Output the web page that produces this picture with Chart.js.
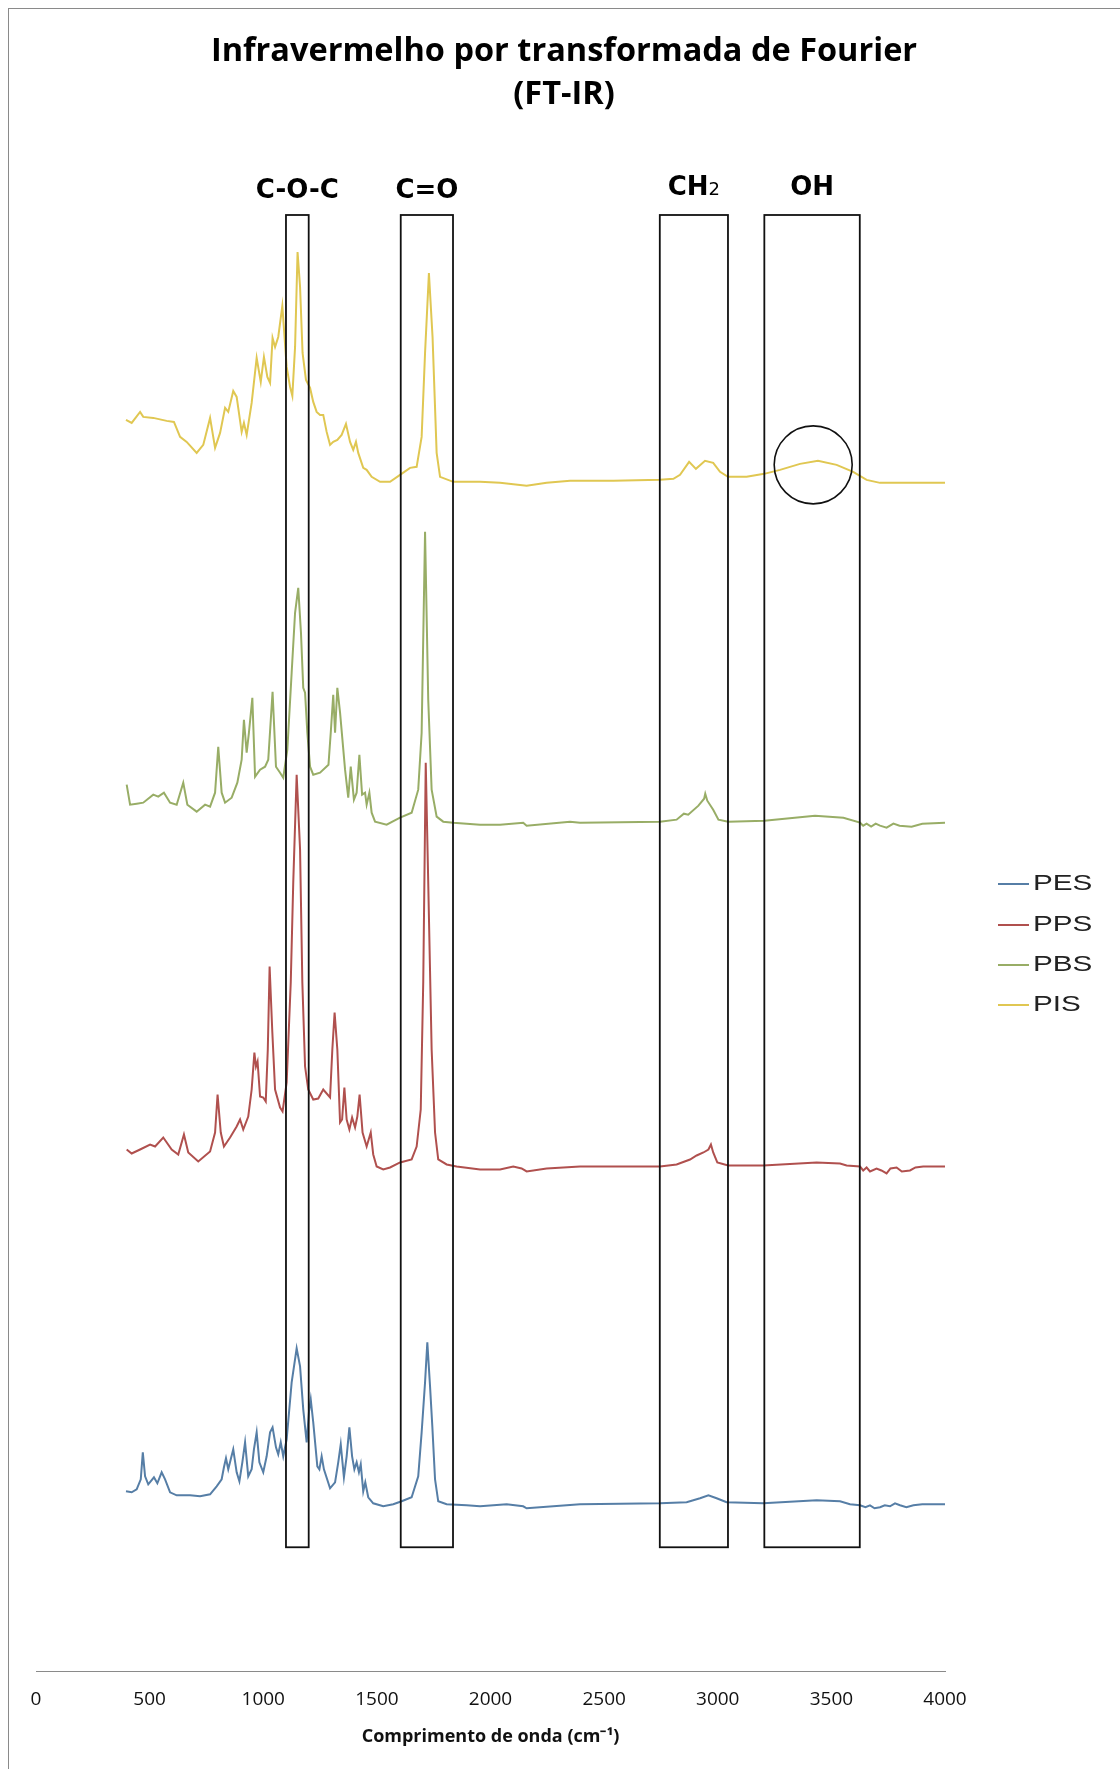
<!DOCTYPE html>
<html>
<head>
<meta charset="utf-8">
<title>FT-IR</title>
<script src="https://cdn.jsdelivr.net/npm/chart.js@4.4.1/dist/chart.umd.min.js"></script>
<style>
  html, body { margin: 0; padding: 0; background: #ffffff; }
  canvas { display: block; }
</style>
</head>
<body>
<canvas id="ftir" width="1120" height="1769"></canvas>
<script>
// Stacked FT-IR spectra, [wavenumber (cm-1), offset absorbance (a.u.)]
const PES = [
  [396,18.0],[421,17.9],[443,18.2],[461,19.2],[470,21.9],[480,19.5],[494,18.7],[519,19.4],[534,18.8],
  [553,19.9],[568,19.2],[590,17.9],[619,17.6],[678,17.6],[722,17.5],[766,17.7],[795,18.5],[817,19.2],
  [827,20.4],[836,21.3],[846,20.2],[857,21.2],[868,22.2],[883,19.9],[895,19.0],[908,20.9],[920,22.9],
  [934,19.5],[949,20.2],[959,22.2],[971,23.9],[983,20.9],[1000,19.9],[1015,21.5],[1030,23.9],[1041,24.4],
  [1056,22.4],[1066,21.7],[1077,22.9],[1088,21.5],[1103,23.2],[1125,28.9],[1147,32.3],[1162,30.5],
  [1176,26.2],[1191,22.9],[1201,25.9],[1209,27.2],[1220,24.9],[1238,20.5],[1247,20.2],[1257,21.5],
  [1267,20.2],[1294,18.3],[1316,18.9],[1330,20.9],[1341,22.7],[1355,19.4],[1367,21.5],[1379,24.4],
  [1391,21.5],[1401,20.2],[1411,20.9],[1421,19.9],[1429,20.7],[1440,18.0],[1449,18.9],[1462,17.4],
  [1484,16.8],[1528,16.5],[1572,16.7],[1609,17.0],[1653,17.4],[1682,19.5],[1697,23.9],[1712,28.9],
  [1722,32.9],[1734,28.5],[1744,24.5],[1756,19.2],[1770,17.0],[1807,16.7],[1895,16.6],[1954,16.5],
  [2071,16.7],[2144,16.5],[2159,16.3],[2394,16.7],[2746,16.8],[2863,16.9],[2922,17.3],[2959,17.6],
  [2995,17.3],[3039,16.9],[3200,16.8],[3435,17.1],[3538,17.0],[3582,16.7],[3626,16.6],[3650,16.4],
  [3670,16.6],[3690,16.3],[3714,16.4],[3735,16.6],[3758,16.5],[3780,16.8],[3802,16.6],[3830,16.4],
  [3861,16.6],[3900,16.7],[4000,16.7]
];
const PPS = [
  [399,52.2],[421,51.8],[458,52.2],[502,52.7],[524,52.5],[560,53.4],[597,52.2],[626,51.7],[651,53.7],
  [670,51.9],[714,51.0],[766,52.0],[788,53.9],[799,57.7],[813,53.9],[827,52.5],[854,53.4],[883,54.5],
  [898,55.2],[912,54.2],[934,55.5],[949,58.2],[961,61.9],[968,60.5],[975,61.0],[986,57.5],[1000,57.4],
  [1011,57.0],[1020,62.2],[1028,70.5],[1040,63.9],[1052,58.2],[1074,56.4],[1085,56.0],[1103,58.9],
  [1121,68.9],[1132,78.9],[1147,89.7],[1162,82.2],[1172,68.9],[1184,60.5],[1198,58.2],[1220,57.2],
  [1242,57.3],[1264,58.2],[1294,57.4],[1304,62.2],[1314,65.9],[1326,62.2],[1338,54.9],[1347,55.2],
  [1357,58.4],[1367,55.2],[1379,54.2],[1391,55.4],[1404,54.4],[1414,55.5],[1424,57.7],[1437,53.9],
  [1455,52.5],[1473,53.9],[1484,51.7],[1499,50.5],[1528,50.2],[1558,50.4],[1602,50.9],[1653,51.2],
  [1675,52.5],[1693,56.2],[1704,68.9],[1715,90.9],[1726,78.9],[1741,62.2],[1756,53.9],[1770,51.2],
  [1807,50.7],[1851,50.5],[1954,50.2],[2042,50.2],[2100,50.5],[2137,50.3],[2159,50.0],[2247,50.3],
  [2394,50.5],[2746,50.5],[2819,50.7],[2878,51.2],[2907,51.6],[2937,51.9],[2959,52.2],[2970,52.7],
  [2980,51.9],[2998,50.9],[3046,50.6],[3200,50.6],[3435,50.9],[3538,50.8],[3567,50.6],[3626,50.5],
  [3640,50.1],[3655,50.4],[3670,50.0],[3699,50.3],[3720,50.1],[3743,49.8],[3760,50.3],[3787,50.4],
  [3810,50.0],[3846,50.1],[3870,50.4],[3904,50.5],[4000,50.5]
];
const PBS = [
  [399,88.7],[414,86.7],[443,86.8],[472,86.9],[516,87.7],[538,87.5],[563,87.9],[590,86.9],[619,86.7],
  [648,88.9],[666,86.7],[707,86.0],[744,86.7],[766,86.5],[788,87.9],[802,92.5],[817,87.9],[832,86.9],
  [861,87.4],[886,88.9],[905,91.2],[915,95.2],[927,91.9],[937,93.9],[952,97.4],[964,89.5],[986,90.2],
  [1008,90.5],[1022,91.2],[1041,98.0],[1056,90.5],[1074,89.9],[1088,89.4],[1106,92.2],[1125,99.9],
  [1140,105.9],[1154,108.4],[1166,103.9],[1176,98.4],[1184,97.9],[1194,93.9],[1206,90.5],[1220,89.7],
  [1250,89.9],[1287,90.7],[1297,93.9],[1308,97.7],[1316,93.9],[1326,98.4],[1338,95.9],[1360,90.2],
  [1374,87.4],[1385,90.5],[1399,87.2],[1411,87.9],[1423,91.7],[1435,87.7],[1448,87.9],[1455,86.7],
  [1467,87.9],[1477,85.9],[1492,85.0],[1543,84.7],[1602,85.4],[1653,85.9],[1682,88.2],[1697,93.9],
  [1712,114.0],[1726,97.2],[1741,88.2],[1763,85.5],[1792,85.0],[1836,84.9],[1954,84.7],[2042,84.7],
  [2144,84.9],[2159,84.6],[2350,85.0],[2394,84.9],[2746,85.0],[2819,85.2],[2851,85.8],[2870,85.7],
  [2915,86.6],[2940,87.3],[2945,87.8],[2954,87.1],[2980,86.2],[3003,85.2],[3046,85.0],[3205,85.1],
  [3428,85.6],[3553,85.4],[3626,84.9],[3640,84.6],[3655,84.8],[3675,84.5],[3695,84.8],[3714,84.6],
  [3743,84.4],[3773,84.8],[3800,84.6],[3853,84.5],[3900,84.8],[4000,84.9]
];
const PIS = [
  [396,125.2],[421,124.9],[458,126.0],[472,125.5],[516,125.4],[575,125.1],[607,125.0],[634,123.5],
  [663,123.0],[707,121.9],[736,122.7],[766,125.4],[788,122.4],[810,123.9],[832,126.4],[846,126.0],
  [868,128.1],[883,127.5],[905,124.0],[915,124.9],[927,123.7],[949,126.9],[971,131.4],[989,129.0],
  [1003,131.5],[1018,129.5],[1030,128.9],[1041,133.4],[1052,132.5],[1066,133.5],[1084,136.6],
  [1103,130.5],[1118,128.5],[1128,127.6],[1140,132.5],[1151,142.0],[1162,138.5],[1173,131.9],
  [1188,129.2],[1206,128.4],[1220,127.0],[1235,126.0],[1250,125.7],[1264,125.7],[1279,124.0],
  [1294,122.7],[1308,123.0],[1326,123.2],[1345,123.7],[1364,124.8],[1382,123.0],[1396,122.2],
  [1408,123.0],[1418,121.9],[1440,120.4],[1455,120.2],[1477,119.5],[1514,119.0],[1558,119.0],
  [1602,119.7],[1646,120.4],[1675,120.5],[1697,123.5],[1712,131.9],[1729,139.9],[1745,133.5],
  [1763,121.9],[1778,119.5],[1836,119.0],[1954,119.0],[2042,118.9],[2159,118.6],[2247,118.9],
  [2350,119.1],[2541,119.1],[2746,119.2],[2805,119.3],[2834,119.7],[2874,121.0],[2904,120.3],
  [2944,121.1],[2980,120.9],[3010,120.0],[3045,119.5],[3127,119.5],[3204,119.8],[3274,120.2],
  [3362,120.8],[3441,121.1],[3523,120.7],[3596,120.0],[3655,119.2],[3714,118.9],[3861,118.9],
  [4000,118.9]
];

const seriesNames  = ['PES', 'PPS', 'PBS', 'PIS'];
const seriesData   = [PES, PPS, PBS, PIS];
const seriesColors = ['#567ea6', '#b0504e', '#98ad66', '#e0c752'];

const xTickLabels = ['0', '500', '1000', '1500', '2000', '2500', '3000', '3500', '4000'];

// Highlighted absorption bands (cm-1) and the vertical span of their frames
const bandNames = ['C-O-C', 'C=O', 'CH2', 'OH'];
const bandFrom  = [1100, 1605, 2745, 3205];
const bandTo    = [1200, 1835, 3045, 3625];
const bandSpan  = [12.4, 145.7];
const ohCircle  = [3420, 120.7];

const titleLines = ['Infravermelho por transformada de Fourier', '(FT-IR)'];

const decorations = {
  id: 'decorations',
  afterDatasetsDraw(chart) {
    const { ctx, scales: { x, y } } = chart;
    ctx.save();
    ctx.strokeStyle = '#111';
    ctx.lineWidth = 1.8;
    const top = y.getPixelForValue(bandSpan[1]);
    const bottom = y.getPixelForValue(bandSpan[0]);
    bandFrom.forEach((from, i) => {
      const l = x.getPixelForValue(from);
      const r = x.getPixelForValue(bandTo[i]);
      ctx.strokeRect(l, top, r - l, bottom - top);
    });
    ctx.lineWidth = 1.6;
    ctx.beginPath();
    ctx.arc(x.getPixelForValue(ohCircle[0]), y.getPixelForValue(ohCircle[1]), 39, 0, Math.PI * 2);
    ctx.stroke();

    // band labels
    ctx.fillStyle = '#000';
    ctx.textAlign = 'center';
    ctx.textBaseline = 'alphabetic';
    const labelFont = 'bold 26px "DejaVu Sans", sans-serif';
    const subFont = '18px "DejaVu Sans", sans-serif';
    bandNames.forEach((name, i) => {
      const cx = (x.getPixelForValue(bandFrom[i]) + x.getPixelForValue(bandTo[i])) / 2;
      const base = i < 2 ? 198 : 195;
      if (name === 'CH2') {
        ctx.font = labelFont;
        const w1 = ctx.measureText('CH').width;
        ctx.font = subFont;
        const w2 = ctx.measureText('2').width;
        const start = cx - (w1 + w2) / 2;
        ctx.textAlign = 'left';
        ctx.font = labelFont;
        ctx.fillText('CH', start, base);
        ctx.font = subFont;
        ctx.fillText('2', start + w1, base);
        ctx.textAlign = 'center';
      } else {
        ctx.font = labelFont;
        ctx.fillText(name, cx, base);
      }
    });
    ctx.restore();
  },
  afterDraw(chart) {
    const { ctx } = chart;
    ctx.save();
    // chart frame
    ctx.strokeStyle = '#8a8a8a';
    ctx.lineWidth = 1;
    ctx.strokeRect(8.5, 8.5, 1300, 1900);

    // title
    ctx.fillStyle = '#000';
    ctx.textAlign = 'center';
    ctx.textBaseline = 'alphabetic';
    ctx.font = 'bold 32.5px "Open Sans", sans-serif';
    ctx.fillText(titleLines[0], 564, 61);
    ctx.fillText(titleLines[1], 564, 104);

    // legend
    ctx.textAlign = 'left';
    ctx.textBaseline = 'middle';
    const legendY = [884, 925, 965, 1005];
    seriesNames.forEach((name, i) => {
      ctx.strokeStyle = seriesColors[i];
      ctx.lineWidth = 2;
      ctx.beginPath();
      ctx.moveTo(998, legendY[i]);
      ctx.lineTo(1029, legendY[i]);
      ctx.stroke();
      ctx.save();
      ctx.translate(1033, legendY[i]);
      ctx.scale(1.35, 1);
      ctx.font = '22px "Liberation Sans", Arial, sans-serif';
      ctx.fillStyle = '#222';
      ctx.fillText(name, 0, 0);
      ctx.restore();
    });
    ctx.restore();
  }
};

new Chart(document.getElementById('ftir'), {
  type: 'line',
  data: {
    datasets: seriesNames.map((name, i) => ({
      label: name,
      data: seriesData[i].map(([wn, a]) => ({ x: wn, y: a })),
      borderColor: seriesColors[i],
      borderWidth: 2,
      pointRadius: 0,
      tension: 0,
      fill: false
    }))
  },
  options: {
    responsive: false,
    animation: false,
    devicePixelRatio: 1,
    layout: { padding: { left: 36, right: 175, top: 212, bottom: 23 } },
    plugins: {
      legend: { display: false },
      title: { display: false },
      tooltip: { enabled: false }
    },
    scales: {
      x: {
        type: 'linear',
        min: 0,
        max: 4000,
        grid: { display: false, drawTicks: false },
        border: { display: true, color: '#8a8a8a', width: 1 },
        ticks: {
          stepSize: 500,
          autoSkip: false,
          maxRotation: 0,
          padding: 17,
          color: '#111',
          font: { family: '"Open Sans", sans-serif', size: 19 },
          callback: (v, i) => xTickLabels[i]
        },
        title: {
          display: true,
          text: 'Comprimento de onda (cm⁻¹)',
          color: '#111',
          font: { family: '"Open Sans", sans-serif', size: 18, weight: 'bold', lineHeight: 1 },
          padding: { top: 0, bottom: 0 }
        }
      },
      y: { display: false, min: 0, max: 146 }
    }
  },
  plugins: [decorations]
});
</script>
</body>
</html>
